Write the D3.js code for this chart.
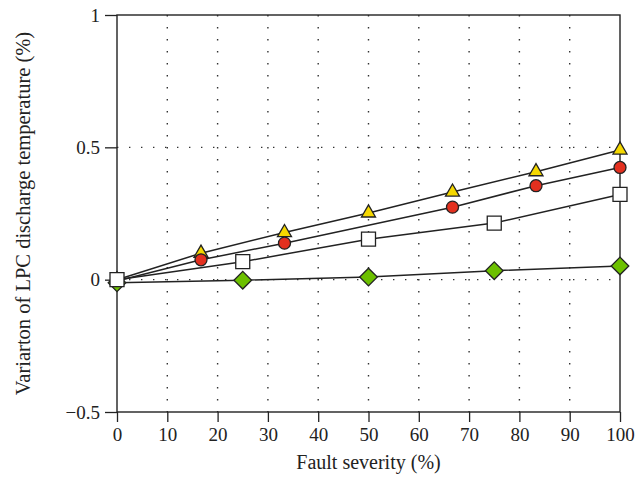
<!DOCTYPE html>
<html>
<head>
<meta charset="utf-8">
<script src="https://cdn.jsdelivr.net/npm/d3@7"></script>
<style>
  body { margin: 0; background: #fff; }
  svg text { font-family: "Liberation Serif", "DejaVu Serif", serif; fill: #222; }
</style>
</head>
<body>
<svg id="main" width="636" height="503"></svg>
<script>
// data
var xTicks = [0, 10, 20, 30, 40, 50, 60, 70, 80, 90, 100];
var yTicks = [-0.5, 0, 0.5, 1];

var triX = [0, 16.7, 33.3, 50, 66.7, 83.3, 100];
var triY = [0.0, 0.10, 0.178, 0.252, 0.331, 0.408, 0.49];

var cirX = [0, 16.7, 33.3, 66.7, 83.3, 100];
var cirY = [-0.005, 0.075, 0.138, 0.274, 0.355, 0.424];

var sqX = [0, 25, 50, 75, 100];
var sqY = [0.0, 0.068, 0.153, 0.214, 0.322];

var diaX = [0, 25, 50, 75, 100];
var diaY = [-0.012, -0.002, 0.01, 0.034, 0.052];

var svg = d3.select("#main");
var pLeft = 117, pRight = 620, pTop = 15, pBottom = 412;

var x = d3.scaleLinear().domain([0, 100]).range([pLeft, pRight]);
var y = d3.scaleLinear().domain([-0.5, 1]).range([pBottom, pTop]);

// dotted grid
var grid = svg.append("g");
grid.selectAll(".vg").data(xTicks.slice(1, -1)).enter().append("line")
    .attr("x1", d => x(d)).attr("x2", d => x(d))
    .attr("y1", pTop).attr("y2", pBottom)
    .attr("stroke", "#333").attr("stroke-width", 1.4)
    .attr("stroke-dasharray", "1.4,10.6");
grid.selectAll(".hg").data(yTicks.slice(1, -1)).enter().append("line")
    .attr("x1", pLeft).attr("x2", pRight)
    .attr("y1", d => y(d)).attr("y2", d => y(d))
    .attr("stroke", "#333").attr("stroke-width", 1.4)
    .attr("stroke-dasharray", "1.4,10.6");

// axes
var xAxis = svg.append("g")
    .attr("transform", "translate(0," + pBottom + ")")
    .call(d3.axisBottom(x).tickValues(xTicks).tickSize(10).tickPadding(6).tickFormat(d3.format("d")));
var yAxis = svg.append("g")
    .attr("transform", "translate(" + pLeft + ",0)")
    .call(d3.axisLeft(y).tickValues(yTicks).tickSize(12).tickPadding(5)
        .tickFormat(d => d < 0 ? "\u2212" + Math.abs(d) : d));
[xAxis, yAxis].forEach(function(a){
    a.select(".domain").remove();
    a.selectAll("line").attr("stroke", "#222").attr("stroke-width", 1.3);
    a.selectAll("text").style("font-size", "19px").attr("fill", "#222");
});

// frame
svg.append("rect")
    .attr("x", pLeft).attr("y", pTop)
    .attr("width", pRight - pLeft).attr("height", pBottom - pTop)
    .attr("fill", "none").attr("stroke", "#222").attr("stroke-width", 1.4);

// axis titles
svg.append("text")
    .attr("x", (pLeft + pRight) / 2).attr("y", 469)
    .attr("text-anchor", "middle")
    .style("font-size", "20px")
    .text("Fault severity (%)");
svg.append("text")
    .attr("transform", "translate(30," + ((pTop + pBottom) / 2) + ") rotate(-90)")
    .attr("text-anchor", "middle")
    .style("font-size", "20.5px")
    .text("Variarton of LPC discharge temperature (%)");

var line = d3.line().x(d => x(d[0])).y(d => y(d[1]));
var series = [
    {xs: triX, ys: triY, sym: d3.symbolTriangle, size: 85, rot: 0, fill: "#f5d800"},
    {xs: cirX, ys: cirY, sym: d3.symbolCircle, size: 113, rot: 0, fill: "#e3301f"},
    {xs: diaX, ys: diaY, sym: d3.symbolSquare, size: 155, rot: 45, fill: "#6cc000"},
    {xs: sqX, ys: sqY, sym: d3.symbolSquare, size: 196, rot: 0, fill: "#ffffff"}
];

series.forEach(function(s){
    var pts = s.xs.map((v, i) => [v, s.ys[i]]);
    svg.append("path").datum(pts)
        .attr("d", line)
        .attr("fill", "none").attr("stroke", "#222").attr("stroke-width", 1.5);
});

series.forEach(function(s){
    var pts = s.xs.map((v, i) => [v, s.ys[i]]);
    svg.append("g").selectAll("path").data(pts).enter().append("path")
        .attr("transform", d => "translate(" + x(d[0]) + "," + y(d[1]) + ") rotate(" + s.rot + ")")
        .attr("d", d3.symbol().type(s.sym).size(s.size))
        .attr("fill", s.fill).attr("stroke", "#222").attr("stroke-width", 1.3);
});
</script>
</body>
</html>
